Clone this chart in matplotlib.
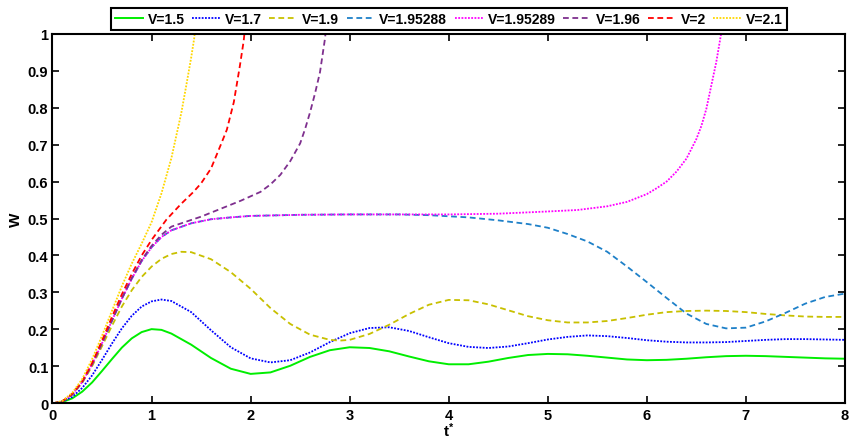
import matplotlib
matplotlib.use("Agg")
import matplotlib.pyplot as plt

plt.rcParams['font.family'] = ['Liberation Sans', 'DejaVu Sans']
plt.rcParams['font.weight'] = 'bold'
plt.rcParams['mathtext.fontset'] = 'custom'
plt.rcParams['mathtext.bf'] = 'Liberation Sans:bold'
plt.rcParams['mathtext.rm'] = 'Liberation Sans:bold'

# W(t*) for each velocity V
t_15 = [0, 0.1, 0.2, 0.3, 0.4, 0.5, 0.6, 0.7, 0.8, 0.9, 1.0, 1.1, 1.2, 1.4, 1.6, 1.8, 2.0, 2.2,
        2.4, 2.6, 2.8, 3.0, 3.2, 3.4, 3.6, 3.8, 4.0, 4.2, 4.4, 4.6, 4.8, 5.0, 5.2, 5.4, 5.6,
        5.8, 6.0, 6.2, 6.4, 6.6, 6.8, 7.0, 7.2, 7.4, 7.6, 7.8, 8.0]
w_15 = [0, 0.004, 0.014, 0.032, 0.057, 0.088, 0.120, 0.151, 0.176, 0.193, 0.201, 0.199, 0.189,
        0.159, 0.123, 0.094, 0.080, 0.084, 0.102, 0.126, 0.144, 0.152, 0.150, 0.141, 0.127,
        0.114, 0.106, 0.106, 0.113, 0.123, 0.131, 0.134, 0.133, 0.129, 0.124, 0.119, 0.117,
        0.118, 0.121, 0.125, 0.128, 0.129, 0.128, 0.126, 0.124, 0.122, 0.121]

t_17 = [0, 0.1, 0.2, 0.3, 0.4, 0.5, 0.6, 0.7, 0.8, 0.9, 1.0, 1.1, 1.2, 1.4, 1.6, 1.8, 2.0, 2.2,
        2.4, 2.6, 2.8, 3.0, 3.2, 3.4, 3.6, 3.8, 4.0, 4.2, 4.4, 4.6, 4.8, 5.0, 5.2, 5.4, 5.6,
        5.8, 6.0, 6.2, 6.4, 6.6, 6.8, 7.0, 7.2, 7.4, 7.6, 7.8, 8.0]
w_17 = [0, 0.005, 0.018, 0.042, 0.076, 0.118, 0.162, 0.203, 0.237, 0.262, 0.276, 0.281, 0.277,
        0.247, 0.198, 0.152, 0.122, 0.111, 0.117, 0.138, 0.166, 0.190, 0.204, 0.206, 0.196,
        0.179, 0.163, 0.153, 0.150, 0.154, 0.163, 0.173, 0.180, 0.184, 0.182, 0.177, 0.171,
        0.167, 0.165, 0.165, 0.166, 0.169, 0.172, 0.174, 0.174, 0.173, 0.172]

t_19 = [0, 0.1, 0.2, 0.3, 0.4, 0.5, 0.6, 0.7, 0.8, 0.9, 1.0, 1.1, 1.2, 1.3, 1.4, 1.6, 1.8, 2.0,
        2.2, 2.4, 2.6, 2.8, 2.9, 3.0, 3.2, 3.4, 3.6, 3.8, 4.0, 4.2, 4.4, 4.6, 4.8, 5.0, 5.2,
        5.4, 5.6, 5.8, 6.0, 6.2, 6.4, 6.6, 6.8, 7.0, 7.2, 7.4, 7.6, 7.8, 8.0]
w_19 = [0, 0.006, 0.024, 0.056, 0.101, 0.155, 0.210, 0.262, 0.306, 0.342, 0.370, 0.391, 0.404,
        0.410, 0.409, 0.390, 0.355, 0.310, 0.258, 0.215, 0.186, 0.172, 0.170, 0.172, 0.188,
        0.213, 0.242, 0.267, 0.280, 0.279, 0.268, 0.252, 0.236, 0.225, 0.219, 0.219, 0.223,
        0.231, 0.240, 0.247, 0.250, 0.251, 0.250, 0.247, 0.242, 0.238, 0.235, 0.234, 0.234]

t_195288 = [0, 0.1, 0.2, 0.3, 0.4, 0.5, 0.6, 0.7, 0.8, 0.9, 1.0, 1.1, 1.2, 1.4, 1.6, 1.8, 2.0,
            2.5, 3.0, 3.5, 3.8, 4.2, 4.5, 4.8, 5.0, 5.2, 5.4, 5.6, 5.8, 6.0, 6.2, 6.4, 6.6,
            6.8, 7.0, 7.2, 7.4, 7.6, 7.8, 8.0]
w_195288 = [0, 0.006, 0.025, 0.058, 0.106, 0.163, 0.224, 0.283, 0.337, 0.385, 0.422, 0.450,
            0.468, 0.487, 0.498, 0.503, 0.507, 0.510, 0.511, 0.511, 0.509, 0.503, 0.495,
            0.485, 0.475, 0.458, 0.438, 0.410, 0.370, 0.328, 0.285, 0.243, 0.215, 0.203,
            0.205, 0.222, 0.245, 0.270, 0.288, 0.297]

t_195289 = [0, 0.1, 0.2, 0.3, 0.4, 0.5, 0.6, 0.7, 0.8, 0.9, 1.0, 1.1, 1.2, 1.4, 1.6, 1.8, 2.0,
            2.5, 3.0, 3.5, 4.0, 4.5, 5.0, 5.3, 5.6, 5.8, 6.0, 6.1, 6.2, 6.3, 6.4, 6.5, 6.55,
            6.6, 6.65, 6.7, 6.75, 6.78]
w_195289 = [0, 0.006, 0.025, 0.058, 0.106, 0.163, 0.224, 0.283, 0.337, 0.385, 0.422, 0.450,
            0.468, 0.487, 0.498, 0.503, 0.507, 0.510, 0.511, 0.511, 0.511, 0.513, 0.519,
            0.523, 0.533, 0.545, 0.566, 0.582, 0.600, 0.627, 0.662, 0.715, 0.750, 0.796,
            0.859, 0.922, 1.000, 1.060]

t_196 = [0, 0.1, 0.2, 0.3, 0.4, 0.5, 0.6, 0.7, 0.8, 0.9, 1.0, 1.1, 1.2, 1.5, 1.9, 2.1, 2.2,
         2.3, 2.4, 2.5, 2.55, 2.6, 2.65, 2.7, 2.75, 2.78]
w_196 = [0, 0.006, 0.025, 0.058, 0.106, 0.163, 0.224, 0.284, 0.339, 0.388, 0.426, 0.456,
         0.478, 0.505, 0.548, 0.572, 0.592, 0.618, 0.655, 0.703, 0.742, 0.787, 0.838, 0.895,
         0.985, 1.060]

t_2 = [0, 0.1, 0.2, 0.3, 0.4, 0.5, 0.6, 0.7, 0.8, 0.9, 1.0, 1.15, 1.3, 1.42, 1.5, 1.6, 1.7,
       1.76, 1.83, 1.89, 1.93, 1.96]
w_2 = [0, 0.006, 0.026, 0.060, 0.110, 0.170, 0.234, 0.295, 0.350, 0.400, 0.442, 0.497, 0.540,
       0.571, 0.595, 0.635, 0.700, 0.740, 0.814, 0.910, 0.980, 1.060]

t_21 = [0, 0.1, 0.2, 0.3, 0.4, 0.5, 0.6, 0.7, 0.8, 0.9, 1.0, 1.1, 1.2, 1.3, 1.35, 1.4, 1.43,
        1.46]
w_21 = [0, 0.007, 0.029, 0.066, 0.120, 0.183, 0.250, 0.317, 0.378, 0.432, 0.490, 0.568, 0.663,
        0.785, 0.859, 0.935, 0.986, 1.060]

labels = ['V=1.5', 'V=1.7', 'V=1.9', 'V=1.95288', 'V=1.95289', 'V=1.96', 'V=2', 'V=2.1']
x_ticks = [0, 1, 2, 3, 4, 5, 6, 7, 8]
y_ticks = [0, 0.1, 0.2, 0.3, 0.4, 0.5, 0.6, 0.7, 0.8, 0.9, 1]
y_tick_labels = ['0', '0.1', '0.2', '0.3', '0.4', '0.5', '0.6', '0.7', '0.8', '0.9', '1']

series = [
    (t_15, w_15, '#00EE00', '-'),
    (t_17, w_17, '#0000FF', ':'),
    (t_19, w_19, '#C8C000', '--'),
    (t_195288, w_195288, '#1E80C8', '--'),
    (t_195289, w_195289, '#FF00FF', ':'),
    (t_196, w_196, '#7E2F8E', '--'),
    (t_2, w_2, '#FF0000', '--'),
    (t_21, w_21, '#FFD700', ':'),
]

fig = plt.figure(figsize=(8.55, 4.39), dpi=100)
ax = fig.add_axes([0.0614, 0.0786, 0.9269, 0.8428])

for (t, w, c, ls), lab in zip(series, labels):
    if ls == '--':
        ax.plot(t, w, color=c, lw=1.3, linestyle=(0, (3.2, 2.0)), label=lab)
    elif ls == ':':
        ax.plot(t, w, color=c, lw=1.3, linestyle=(0, (1.0, 0.8)), label=lab)
    else:
        ax.plot(t, w, color=c, lw=1.4, linestyle='-', label=lab)

ax.set_xlim(0, 8)
ax.set_ylim(0, 1)
ax.set_xticks(x_ticks)
ax.set_xticklabels([str(v) for v in x_ticks])
ax.set_yticks(y_ticks)
ax.set_yticklabels(y_tick_labels)
ax.tick_params(direction='in', length=5, width=1.2, top=True, right=True,
               labelsize=10.5, pad=3)
for lbl in ax.get_xticklabels() + ax.get_yticklabels():
    lbl.set_fontweight('bold')
for sp in ax.spines.values():
    sp.set_linewidth(1.5)

ax.set_xlabel(r'$\mathbf{t^{*}}$', fontsize=11)
ax.xaxis.set_label_coords(0.5, -0.045)
ax.set_ylabel('W', fontsize=11, fontweight='bold')
ax.yaxis.set_label_coords(-0.037, 0.5)

leg = fig.legend(loc='center', bbox_to_anchor=(0.525, 0.954), ncol=8,
                 prop={'weight': 'bold', 'size': 10}, frameon=True, fancybox=False,
                 handlelength=2.0, handletextpad=0.35, columnspacing=0.55,
                 borderpad=0.3, edgecolor='black', framealpha=1)
leg.get_frame().set_linewidth(1.5)

fig.savefig('out.png', dpi=100)
